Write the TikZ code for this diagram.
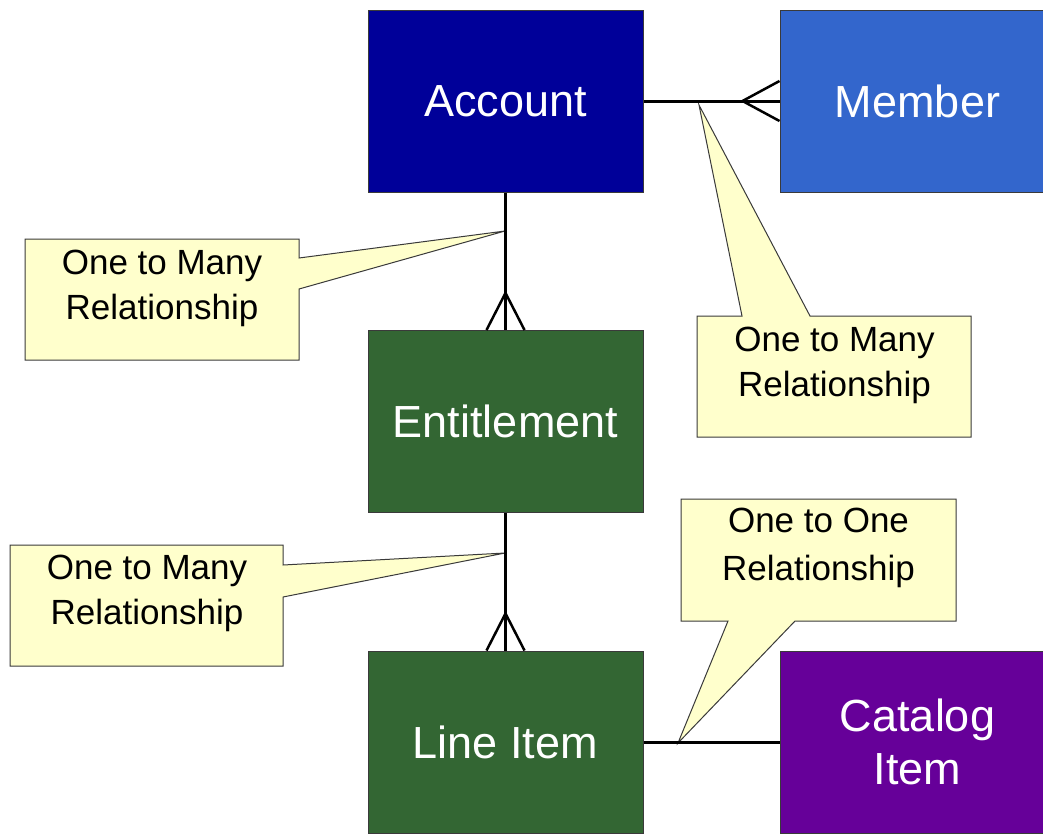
\documentclass[tikz,border=0pt]{standalone}
\usepackage{fontspec}
\setmainfont{Liberation Sans}
\usetikzlibrary{calc}
\definecolor{acctblue}{HTML}{000099}
\definecolor{membblue}{HTML}{3366CC}
\definecolor{entgreen}{HTML}{336633}
\definecolor{catpurple}{HTML}{660099}
\definecolor{notefill}{HTML}{FFFFCC}
\definecolor{edgegray}{HTML}{3A3A3A}
\tikzset{
  entity/.style={draw=edgegray, line width=1pt, minimum width=275pt, minimum height=182pt,
    inner sep=0pt, text=white, align=center, font=\fontsize{45}{53}\selectfont},
  rel/.style={line width=3pt, black},
  foot/.style={line width=2.5pt, black},
  note/.style={fill=notefill, draw=edgegray, line width=1pt, line join=miter},
  notetext/.style={align=center, font=\fontsize{35}{45}\selectfont, inner sep=0pt}
}
\begin{document}
\begin{tikzpicture}[x=1pt,y=-1pt]
\useasboundingbox (0,0) rectangle (1043,833);
\fill[white] (0,0) rectangle (1043,833);

% entities
\node[entity, fill=acctblue] (acc) at (505.5,101) {Account};
\node[entity, fill=membblue] (mem) at (917.5,101) {Member};
\node[entity, fill=entgreen] (ent) at (505.5,421.5) {Entitlement};
\node[entity, fill=entgreen] (li) at (505.5,742) {Line Item};
\node[entity, fill=catpurple] (cat) at (917.5,742) {Catalog\\Item};

% callout tips
\coordinate (t1) at (505,231);
\coordinate (t2) at (699,105);
\coordinate (t3) at (505,553);
\coordinate (t4) at (678,743);

% callouts
\draw[note] (25,239) -- (299,239) -- (299,258) -- (t1) -- (299,289) -- (299,360) -- (25,360) -- cycle;
\node[notetext] (n1) at (162,288.5) {One to Many\\Relationship};

\draw[note] (697,316) -- (742,316) -- (t2) -- (810,316) -- (971,316) -- (971,437) -- (697,437) -- cycle;
\node[notetext] (n2) at (834.5,365.5) {One to Many\\Relationship};

\draw[note] (10,545) -- (283,545) -- (283,565) -- (t3) -- (283,597) -- (283,666) -- (10,666) -- cycle;
\node[notetext] (n3) at (147,593.5) {One to Many\\Relationship};

\draw[note] (681,499) -- (956,499) -- (956,621) -- (795,621) -- (t4) -- (728,621) -- (681,621) -- cycle;
\node[notetext, font=\fontsize{35}{48}\selectfont] (n4) at (818.5,548) {One to One\\Relationship};

% connectors
\draw[rel] (acc.east) -- (mem.west);
\draw[foot] ($(mem.west)+(-37,0)$) -- ($(mem.west)+(0,-20)$);
\draw[foot] ($(mem.west)+(-37,0)$) -- ($(mem.west)+(0,20)$);

\draw[rel] (acc.south) -- (ent.north);
\draw[foot] ($(ent.north)+(0,-37)$) -- ($(ent.north)+(-19,0)$);
\draw[foot] ($(ent.north)+(0,-37)$) -- ($(ent.north)+(19,0)$);

\draw[rel] (ent.south) -- (li.north);
\draw[foot] ($(li.north)+(0,-37)$) -- ($(li.north)+(-19,0)$);
\draw[foot] ($(li.north)+(0,-37)$) -- ($(li.north)+(19,0)$);

\draw[rel] (li.east) -- (cat.west);
\end{tikzpicture}
\end{document}
